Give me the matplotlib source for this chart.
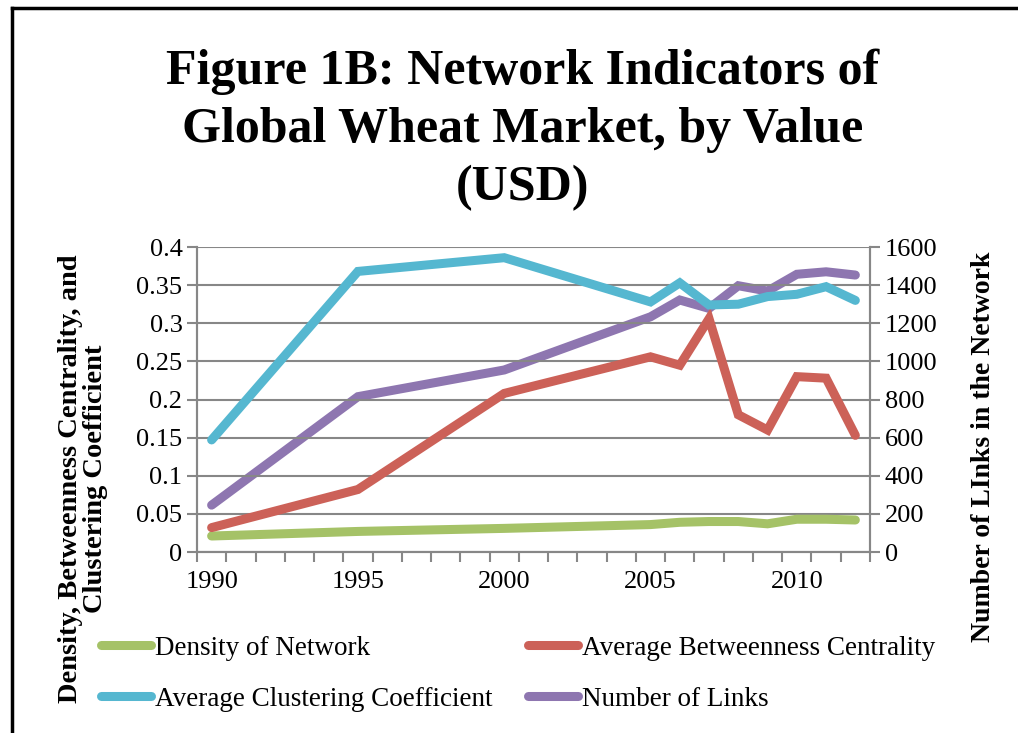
import matplotlib
matplotlib.use("Agg")
import matplotlib.pyplot as plt
from matplotlib.lines import Line2D
from matplotlib.ticker import FixedLocator

plt.rcParams['font.family'] = ['Liberation Serif', 'DejaVu Serif']

years = [1990, 1995, 2000, 2005, 2006, 2007, 2008, 2009, 2010, 2011, 2012]
density = [0.021, 0.027, 0.031, 0.036, 0.039, 0.040, 0.040, 0.037, 0.043, 0.043, 0.042]
betweenness = [0.032, 0.082, 0.208, 0.256, 0.245, 0.306, 0.180, 0.160, 0.230, 0.228, 0.153]
clustering = [0.147, 0.368, 0.386, 0.328, 0.353, 0.324, 0.325, 0.335, 0.338, 0.348, 0.330]
links = [246, 815, 955, 1234, 1322, 1278, 1397, 1369, 1457, 1470, 1453]

left_ticks = [0, 0.05, 0.1, 0.15, 0.2, 0.25, 0.3, 0.35, 0.4]
left_labels = ['0', '0.05', '0.1', '0.15', '0.2', '0.25', '0.3', '0.35', '0.4']
right_ticks = [0, 200, 400, 600, 800, 1000, 1200, 1400, 1600]
x_labels = [1990, 1995, 2000, 2005, 2010]

GRID = '#878787'


def main():
    fig = plt.figure(figsize=(10.18, 7.33), dpi=100)
    ax = fig.add_axes([0.1935, 0.2469, 0.6611, 0.4161])
    ax2 = ax.twinx()

    lw = 6.5
    kw = dict(linewidth=lw, solid_capstyle='round', solid_joinstyle='miter')
    l1, = ax.plot(years, density, color='#a5c267', label='Density of Network', **kw)
    l2, = ax.plot(years, betweenness, color='#cc6158', label='Average Betweenness Centrality', **kw)
    l3, = ax.plot(years, clustering, color='#55b7d0', label='Average Clustering Coefficient', **kw)
    l4, = ax2.plot(years, links, color='#8e76b0', label='Number of Links', **kw)
    ax.set_zorder(ax2.get_zorder() + 1)
    ax.patch.set_visible(False)

    ax.set_xlim(1989.5, 2012.5)
    ax.set_ylim(0, 0.4)
    ax2.set_ylim(0, 1600)
    ax.set_yticks(left_ticks)
    ax.set_yticklabels(left_labels)
    ax2.set_yticks(right_ticks)
    ax.set_xticks(x_labels)
    ax.xaxis.set_minor_locator(FixedLocator([y + 0.5 for y in range(1989, 2013)]))
    ax.tick_params(axis='x', which='major', length=0, labelsize=19, pad=14)
    ax.tick_params(axis='x', which='minor', length=7, color=GRID, width=1.5)
    ax.tick_params(axis='y', labelsize=19, length=7, color=GRID, width=1.5)
    ax2.tick_params(axis='y', labelsize=19, length=7, color=GRID, width=1.5)

    ax.grid(axis='y', color=GRID, linewidth=1.5)
    ax.set_axisbelow(True)
    for a in (ax, ax2):
        for s in a.spines.values():
            s.set_color(GRID)
            s.set_linewidth(1.5)
        a.spines['top'].set_visible(False)

    ax.set_ylabel('Density, Betweenness Centrality, and\nClustering Coefficient',
                  fontsize=20.5, fontweight='bold', linespacing=1.0)
    ax.yaxis.set_label_coords(-0.132, 0.24)
    ax2.set_ylabel('Number of LInks in the Network', fontsize=20, fontweight='bold')
    ax2.yaxis.set_label_coords(1.15, 0.344)

    fig.text(0.513, 0.823, 'Figure 1B: Network Indicators of\nGlobal Wheat Market, by Value\n(USD)',
             ha='center', va='center', fontsize=36, fontweight='bold', linespacing=1.33)

    handles = [l1, l3, l2, l4]
    fig.legend(handles, [h.get_label() for h in handles],
               loc='lower left', bbox_to_anchor=(0.075, -0.004), ncol=2, frameon=False,
               fontsize=19.5, handlelength=1.85, handletextpad=0.15, columnspacing=1.3,
               labelspacing=0.95)

    fig.add_artist(Line2D([0.012, 0.012], [0, 0.989], transform=fig.transFigure,
                          color='black', linewidth=2.5))
    fig.add_artist(Line2D([0.012, 1.0], [0.989, 0.989], transform=fig.transFigure,
                          color='black', linewidth=2.5))

    fig.savefig('out.png', dpi=100)
    plt.close(fig)


if __name__ == "__main__":
    main()
